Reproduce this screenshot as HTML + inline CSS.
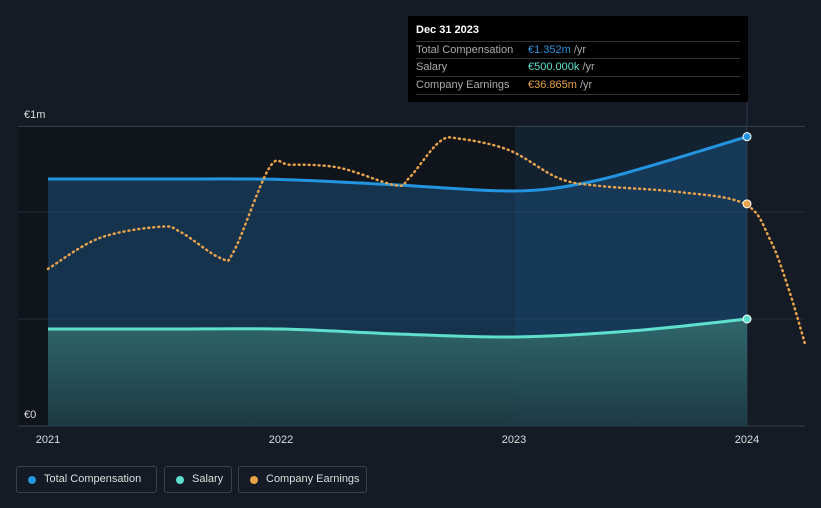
<!DOCTYPE html>
<html><head><meta charset="utf-8"><style>
body{margin:0;background:#151b24;font-family:"Liberation Sans",sans-serif;}
#wrap{position:relative;width:821px;height:508px;overflow:hidden;background:#151b24;}
.tt{position:absolute;left:408px;top:16px;width:340px;height:86px;background:#000;color:#fff;font-size:11px;}
.tt .r{position:absolute;left:8px;width:324px;border-top:1px solid #333;height:17px;line-height:17px;color:#aaa;}
.tt .r span{position:absolute;left:112px;}
.leg{position:absolute;top:466px;height:27px;border:1px solid #3a414c;border-radius:3px;color:#ddd;font-size:11px;line-height:25px;box-sizing:border-box;padding-left:27px;white-space:nowrap;}
.leg i{position:absolute;left:11px;top:9px;width:8px;height:8px;border-radius:50%;}
</style></head><body>
<div id="wrap">
<svg id="svg" width="821" height="508" style="position:absolute;left:0;top:0"></svg>
<div class="tt">
<div style="position:absolute;left:8px;top:8px;font-weight:bold;font-size:11px">Dec 31 2023</div>
<div class="r" style="top:25px">Total Compensation<span style="color:#2394df">€1.352m <b style="color:#aaa;font-weight:normal">/yr</b></span></div>
<div class="r" style="top:42px">Salary<span style="color:#5fe0cf">€500.000k <b style="color:#aaa;font-weight:normal">/yr</b></span></div>
<div class="r" style="top:60px">Company Earnings<span style="color:#e8a24a">€36.865m <b style="color:#aaa;font-weight:normal">/yr</b></span></div>
<div class="r" style="top:78px;height:0"></div>
</div>
<div class="leg" style="left:16px;width:141px"><i style="background:#2394df"></i>Total Compensation</div>
<div class="leg" style="left:164px;width:68px"><i style="background:#5fe0cf"></i>Salary</div>
<div class="leg" style="left:238px;width:129px"><i style="background:#e8a24a"></i>Company Earnings</div>
</div>
<script>
const compX=[2021,2021.5,2022,2022.5,2023,2023.3,2023.6,2024];
const compV=[1.154,1.154,1.152,1.126,1.098,1.135,1.22,1.352];
const salX=[2021,2021.5,2022,2022.5,2023,2023.5,2024];
const salV=[0.453,0.453,0.453,0.43,0.416,0.444,0.5];
const earnX=[2021.0,2021.22,2021.48,2021.57,2021.74,2021.8,2021.95,2022.04,2022.25,2022.49,2022.55,2022.68,2022.77,2022.98,2023.19,2023.36,2023.7,2023.99,2024.1,2024.18,2024.25];
const earnV=[26.1,31.2,33.1,32.2,27.9,29.2,42.9,43.4,42.9,40.0,41.2,47.2,47.7,45.8,41.2,39.9,38.9,36.9,30.9,22.6,13.5];
const yTicks=["€0","€1m"];
const xTicks=[2021,2022,2023,2024];
const X=t=>48+(t-2021)*233;
const Y=v=>426-v*214;
const YE=v=>426-v*6.02;
const NS="http://www.w3.org/2000/svg";
const svg=document.getElementById('svg');
function mk(t,a,p){const e=document.createElementNS(NS,t);for(const k in a)e.setAttribute(k,a[k]);(p||svg).appendChild(e);return e;}
function path(pts){let d="M"+pts[0][0]+","+pts[0][1];for(let i=0;i<pts.length-1;i++){const p0=pts[i-1]||pts[i],p1=pts[i],p2=pts[i+1],p3=pts[i+2]||p2;const c1=[p1[0]+(p2[0]-p0[0])/6,p1[1]+(p2[1]-p0[1])/6],c2=[p2[0]-(p3[0]-p1[0])/6,p2[1]-(p3[1]-p1[1])/6];d+=" C"+c1+" "+c2+" "+p2;}return d;}
const defs=mk('defs',{});
defs.innerHTML='<linearGradient id="sg" x1="0" y1="0" x2="0" y2="1"><stop offset="0" stop-color="#337070"/><stop offset="1" stop-color="#1f3a42"/></linearGradient>';
let r=mk('rect',{x:18,y:126,width:497,height:300,fill:'#10151c'});

r=mk('rect',{x:515,y:126,width:232,height:300,fill:'#132231'});

[0,0.5,1,1.4].forEach(v=>{const l=mk('line',{x1:18,x2:805,y1:Y(v),y2:Y(v),stroke:v==0||v==1.4?'#3a414c':'#262d38'});});
let vl=mk('line',{x1:747,x2:747,y1:100,y2:426,stroke:'#2a3a4c'});
const cp=compX.map((t,i)=>[X(t),Y(compV[i])]);
const sp=salX.map((t,i)=>[X(t),Y(salV[i])]);
let a=mk('path',{d:path(cp)+` L${X(2024)},426 L48,426Z`,fill:'#1c4c78',opacity:0.55});

a=mk('path',{d:path(sp)+` L${X(2024)},426 L48,426Z`,fill:'url(#sg)',opacity:0.85});

let l=mk('path',{d:path(cp),fill:'none',stroke:'#2394df','stroke-width':3});

l=mk('path',{d:path(sp),fill:'none',stroke:'#5fe0cf','stroke-width':3});

const ep=earnX.map((t,i)=>[X(t),YE(earnV[i])]);
l=mk('path',{d:path(ep),fill:'none',stroke:'#e8a24a','stroke-width':2.5,'stroke-dasharray':'1 4','stroke-linecap':'round'});

[[cp[cp.length-1],'#2394df'],[sp[sp.length-1],'#5fe0cf'],[[X(2024),YE(earnV[17])],'#e8a24a']].forEach(([p,c])=>{const d=mk('circle',{cx:p[0],cy:p[1],r:4,fill:c,stroke:'#fff','stroke-width':1});});
yTicks.forEach((s,i)=>{const t=mk('text',{x:24,y:i==0?418:118,fill:'#ddd','font-size':11});t.textContent=s;});
xTicks.forEach(v=>{const t=mk('text',{x:X(v),y:443,fill:'#ddd','font-size':11,'text-anchor':'middle'});t.textContent=v;});
</script>
</body></html>
